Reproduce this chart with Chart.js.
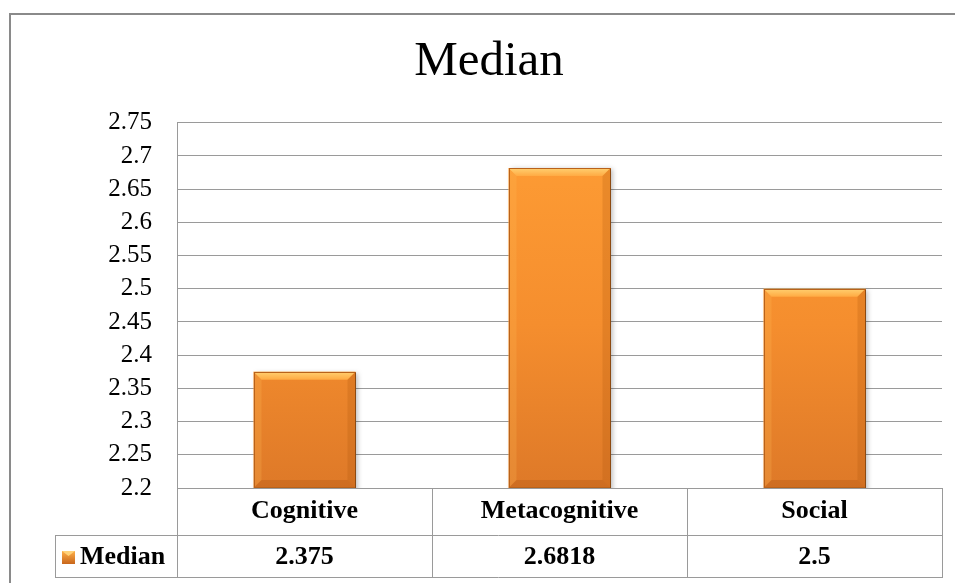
<!DOCTYPE html>
<html>
<head>
<meta charset="utf-8">
<title>Median</title>
<script src="https://cdn.jsdelivr.net/npm/chart.js@4/dist/chart.umd.min.js"></script>
<style>
    html, body { margin: 0; padding: 0; background: #ffffff; }
    #wrap { width: 955px; height: 583px; }
</style>
</head>
<body>
<div id="wrap"><canvas id="chart" width="955" height="583"></canvas></div>
<script>
// chart data
const categories = ['Cognitive', 'Metacognitive', 'Social'];
const medianValues = [2.375, 2.6818, 2.5];
const valueLabels = ['2.375', '2.6818', '2.5'];
const seriesName = 'Median';
const yMin = 2.2;
const yMax = 2.75;
const yStep = 0.05;

const SERIF = "'Liberation Serif', 'Times New Roman', serif";
const LINE = '#9a9a9a';

function barFill(context) {
    const area = context.chart.chartArea;
    if (!area) return '#f7922e';
    const g = context.chart.ctx.createLinearGradient(0, area.top, 0, area.bottom);
    g.addColorStop(0, '#ff9e35');
    g.addColorStop(0.55, '#f58e2e');
    g.addColorStop(1, '#de7928');
    return g;
}

// outer frame + table under the plot
const frameAndTable = {
    id: 'frameAndTable',
    beforeDraw(chart) {
        const ctx = chart.ctx;
        ctx.save();
        ctx.strokeStyle = '#8a8a8a';
        ctx.lineWidth = 2;
        ctx.beginPath();
        ctx.moveTo(10, chart.height);
        ctx.lineTo(10, 14);
        ctx.lineTo(chart.width, 14);
        ctx.stroke();
        ctx.restore();
    },
    afterDraw(chart) {
        const ctx = chart.ctx;
        const area = chart.chartArea;
        const x = chart.scales.x;
        const rowTop = area.bottom;
        const rowMid = rowTop + 47;
        const rowBot = x.bottom - 6;
        const legendLeft = 55;
        const step = (area.right - area.left) / categories.length;

        ctx.save();
        ctx.strokeStyle = LINE;
        ctx.lineWidth = 1;
        ctx.beginPath();
        // horizontal rules
        ctx.moveTo(legendLeft, Math.round(rowMid) + 0.5);
        ctx.lineTo(area.right, Math.round(rowMid) + 0.5);
        ctx.moveTo(legendLeft, Math.round(rowBot) + 0.5);
        ctx.lineTo(area.right, Math.round(rowBot) + 0.5);
        // legend cell left edge
        ctx.moveTo(legendLeft + 0.5, Math.round(rowMid));
        ctx.lineTo(legendLeft + 0.5, Math.round(rowBot) + 1);
        // column dividers
        for (let i = 0; i <= categories.length; i++) {
            const cx = Math.round(area.left + step * i) + 0.5;
            ctx.moveTo(cx, rowTop);
            ctx.lineTo(cx, Math.round(rowBot) + 1);
        }
        ctx.stroke();

        // value row
        ctx.fillStyle = '#000';
        ctx.font = 'bold 26px ' + SERIF;
        ctx.textAlign = 'center';
        ctx.textBaseline = 'middle';
        const valY = (rowMid + rowBot) / 2 + 1;
        valueLabels.forEach((v, i) => {
            ctx.fillText(v, x.getPixelForValue(i), valY);
        });

        // legend key + series name
        const kx = 62, ky = valY - 6, ks = 13;
        const kg = ctx.createLinearGradient(0, ky, 0, ky + ks);
        kg.addColorStop(0, '#ffb048');
        kg.addColorStop(1, '#c8661c');
        ctx.fillStyle = kg;
        ctx.fillRect(kx, ky, ks, ks);
        ctx.fillStyle = '#ffd27a';
        ctx.beginPath();
        ctx.moveTo(kx, ky);
        ctx.lineTo(kx + ks, ky);
        ctx.lineTo(kx + ks / 2, ky + 5);
        ctx.closePath();
        ctx.fill();
        ctx.fillStyle = '#000';
        ctx.textAlign = 'left';
        ctx.fillText(seriesName, kx + ks + 5, valY);
        ctx.restore();
    }
};

// soft shadow under the bars
const barShadow = {
    id: 'barShadow',
    beforeDatasetsDraw(chart) {
        const ctx = chart.ctx;
        ctx.save();
        ctx.shadowColor = 'rgba(0, 0, 0, 0.28)';
        ctx.shadowBlur = 5;
        ctx.shadowOffsetX = 2;
        ctx.shadowOffsetY = 1;
    },
    afterDatasetsDraw(chart) {
        chart.ctx.restore();
    }
};

// bevel effect on the bars
const barBevel = {
    id: 'barBevel',
    afterDatasetsDraw(chart) {
        const ctx = chart.ctx;
        const area = chart.chartArea;
        const meta = chart.getDatasetMeta(0);
        const b = 8;
        ctx.save();
        meta.data.forEach(bar => {
            const p = bar.getProps(['x', 'y', 'base', 'width'], true);
            const l = p.x - p.width / 2;
            const r = p.x + p.width / 2;
            const t = p.y;
            const btm = Math.min(p.base, area.bottom);

            const tg = ctx.createLinearGradient(0, t, 0, t + b);
            tg.addColorStop(0, '#ffd071');
            tg.addColorStop(1, '#ffaa42');
            ctx.fillStyle = tg;
            ctx.beginPath();
            ctx.moveTo(l, t); ctx.lineTo(r, t); ctx.lineTo(r - b, t + b); ctx.lineTo(l + b, t + b);
            ctx.closePath(); ctx.fill();

            ctx.fillStyle = 'rgba(255, 190, 90, 0.22)';
            ctx.beginPath();
            ctx.moveTo(l, t); ctx.lineTo(l + b, t + b); ctx.lineTo(l + b, btm - b); ctx.lineTo(l, btm);
            ctx.closePath(); ctx.fill();

            ctx.fillStyle = 'rgba(170, 80, 10, 0.22)';
            ctx.beginPath();
            ctx.moveTo(r, t); ctx.lineTo(r - b, t + b); ctx.lineTo(r - b, btm - b); ctx.lineTo(r, btm);
            ctx.closePath(); ctx.fill();

            ctx.fillStyle = 'rgba(150, 70, 10, 0.22)';
            ctx.beginPath();
            ctx.moveTo(l, btm); ctx.lineTo(l + b, btm - b); ctx.lineTo(r - b, btm - b); ctx.lineTo(r, btm);
            ctx.closePath(); ctx.fill();

            ctx.strokeStyle = '#b9621a';
            ctx.lineWidth = 1;
            ctx.strokeRect(Math.round(l) + 0.5, Math.round(t) + 0.5, Math.round(r - l) - 1, Math.round(btm - t) - 1);
            ctx.strokeStyle = '#8c4a12';
            ctx.beginPath();
            ctx.moveTo(Math.round(r) - 0.5, Math.round(t) + 1);
            ctx.lineTo(Math.round(r) - 0.5, Math.round(btm));
            ctx.stroke();
        });
        ctx.restore();
    }
};

const chart = new Chart(document.getElementById('chart'), {
    type: 'bar',
    data: {
        labels: categories,
        datasets: [{
            label: seriesName,
            data: medianValues,
            backgroundColor: barFill,
            borderWidth: 0,
            barPercentage: 0.8,
            categoryPercentage: 0.5
        }]
    },
    options: {
        responsive: false,
        animation: false,
        layout: { padding: { top: 14, right: 13, bottom: 0, left: 36 } },
        plugins: {
            legend: { display: false },
            tooltip: { enabled: false },
            title: {
                display: true,
                text: 'Median',
                color: '#000',
                font: { family: SERIF, size: 49, weight: 'normal', lineHeight: 1.2 },
                padding: { top: 19, bottom: 31 }
            }
        },
        scales: {
            x: {
                grid: { display: false, drawTicks: false },
                border: { display: true, color: LINE, width: 1 },
                ticks: {
                    color: '#000',
                    font: { family: SERIF, size: 26, weight: 'bold', lineHeight: 1.2 },
                    padding: 8
                },
                afterFit(scale) { scale.height = 95; }
            },
            y: {
                min: yMin,
                max: yMax,
                grid: { color: LINE, drawTicks: false },
                border: { display: true, color: LINE, width: 1 },
                ticks: {
                    stepSize: yStep,
                    color: '#000',
                    font: { family: SERIF, size: 25 },
                    padding: 25,
                    callback: v => String(Number(v.toFixed(2)))
                },
                afterFit(scale) { scale.width = 141; }
            }
        }
    },
    plugins: [frameAndTable, barShadow, barBevel]
});
</script>
</body>
</html>
